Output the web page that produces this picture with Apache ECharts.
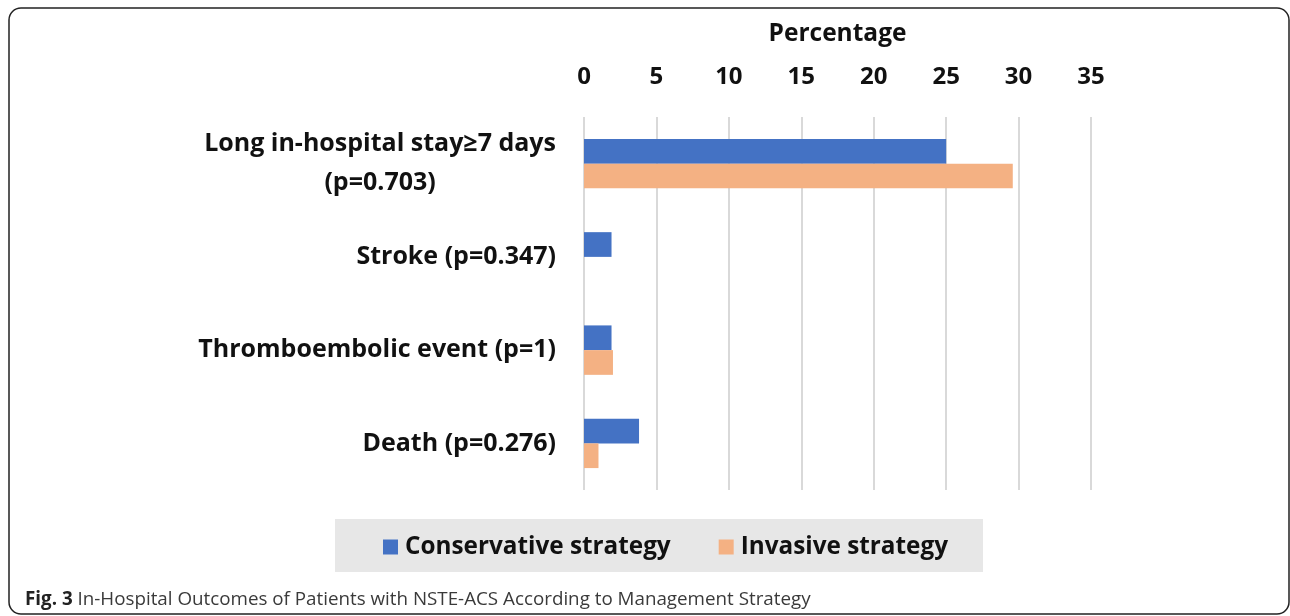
<!DOCTYPE html>
<html>
<head>
<meta charset="utf-8">
<script src="https://cdn.jsdelivr.net/npm/echarts@6/dist/echarts.min.js"></script>
<style>
  html, body { margin: 0; padding: 0; background: #fff; }
  #chart { width: 1290px; height: 616px; }
</style>
</head>
<body>
<div id="chart"></div>
<script>
// outcomes, top to bottom
var categories = [
  'Long in-hospital stay≥7 days\n(p=0.703)',
  'Stroke (p=0.347)',
  'Thromboembolic event (p=1)',
  'Death (p=0.276)'
];
var conservative = [25, 1.9, 1.9, 3.8];
var invasive = [29.6, 0, 2.0, 1.0];
var seriesNames = ['Conservative strategy', 'Invasive strategy'];
var colors = ['#4472C4', '#F4B183'];

var chart = echarts.init(document.getElementById('chart'));

var option = {
  animation: false,
  color: colors,
  textStyle: { fontFamily: 'Open Sans' },
  grid: { left: 584, right: 199, top: 117, bottom: 126 },
  graphic: [
    {
      type: 'rect',
      shape: { x: 9, y: 8, width: 1280, height: 606, r: 12 },
      style: { fill: 'none', stroke: '#222', lineWidth: 1.5 },
      z: 0
    },
    {
      type: 'rect',
      shape: { x: 335, y: 519, width: 648, height: 53 },
      style: { fill: '#e7e7e7' },
      z: 0
    },
    {
      type: 'text',
      left: 25,
      top: 590,
      style: {
        text: '{b|Fig. 3} In-Hospital Outcomes of Patients with NSTE-ACS According to Management Strategy',
        fontFamily: 'Open Sans',
        fontSize: 18.8,
        fill: '#3a3a3a',
        rich: {
          b: { fontFamily: 'Open Sans', fontSize: 18.8, fontWeight: 'bold', fill: '#222' }
        }
      }
    }
  ],
  legend: {
    data: seriesNames,
    left: 378,
    top: 530,
    itemWidth: 15,
    itemHeight: 15,
    itemGap: 48,
    icon: 'rect',
    textStyle: { fontSize: 24.3, fontWeight: 'bold', color: '#111', fontFamily: 'Open Sans', padding: [0, 0, 0, 2] }
  },
  xAxis: {
    type: 'value',
    position: 'top',
    min: 0,
    max: 35,
    interval: 5,
    name: 'Percentage',
    nameLocation: 'middle',
    nameGap: 70,
    nameTextStyle: { fontSize: 24.5, fontWeight: 'bold', color: '#111' },
    axisLine: { show: false },
    axisTick: { show: false },
    axisLabel: { fontSize: 24, fontWeight: 'bold', color: '#111', margin: 28 },
    splitLine: { lineStyle: { color: '#d9d9d9', width: 2 } }
  },
  yAxis: {
    type: 'category',
    inverse: true,
    data: categories,
    axisLine: { show: false },
    axisTick: { show: false },
    axisLabel: {
      fontSize: 25,
      fontWeight: 'bold',
      color: '#111',
      margin: 28,
      lineHeight: 39,
      formatter: function (v) { return '{c|' + v.split('\n').join('}\n{c|') + '}'; },
      rich: { c: { fontSize: 25, fontWeight: 'bold', color: '#111', align: 'center', lineHeight: 39 } }
    }
  },
  series: [
    {
      name: seriesNames[0],
      type: 'bar',
      data: conservative,
      barGap: '0%',
      barCategoryGap: '47%'
    },
    {
      name: seriesNames[1],
      type: 'bar',
      data: invasive,
      barGap: '0%',
      barCategoryGap: '47%'
    }
  ]
};

chart.setOption(option);
</script>
</body>
</html>
